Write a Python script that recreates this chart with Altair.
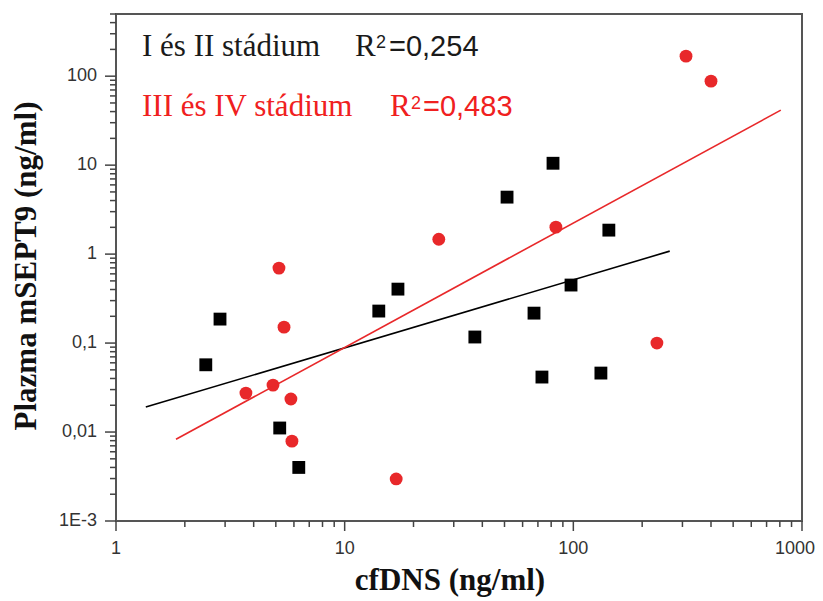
import altair as alt
import pandas as pd

# ---- data ----
groups = ["I és II stádium", "III és IV stádium"]
r2_labels = ["=0,254", "=0,483"]
x_title = "cfDNS (ng/ml)"
y_title = "Plazma mSEPT9 (ng/ml)"

black_x = [2.47, 2.85, 5.2, 6.3, 14.1, 17.1, 37.1, 51.3, 81.5, 143, 97.7, 67.3, 72.9, 132]
black_y = [0.057, 0.186, 0.0111, 0.0040, 0.229, 0.404, 0.117, 4.37, 10.5, 1.86, 0.449, 0.217, 0.0415, 0.046]

red_x = [3.70, 4.86, 5.43, 5.82, 5.88, 16.8, 5.16, 25.8, 83.9, 311, 400, 232]
red_y = [0.0274, 0.0337, 0.151, 0.0235, 0.0079, 0.00297, 0.696, 1.47, 2.01, 168, 87.9, 0.10]

black_fit_x = [1.35, 264]
black_fit_y = [0.0191, 1.08]
red_fit_x = [1.83, 808]
red_fit_y = [0.0083, 41.5]

x_major = [1, 10, 100, 1000]
x_major_labels = ["1", "10", "100", "1000"]
y_major = [0.001, 0.01, 0.1, 1, 10, 100]
y_major_labels = ["1E-3", "0,01", "0,1", "1", "10", "100"]

# ---- minor tick positions (2..9 per decade) ----
x_minor = [round(k * 10 ** e, 6) for e in range(0, 3) for k in range(2, 10)]
y_minor = [round(k * 10 ** e, 6) for e in range(-3, 3) for k in range(2, 10) if k * 10 ** e <= 500]

pts = pd.DataFrame({
    "x": black_x + red_x,
    "y": black_y + red_y,
    "g": [groups[0]] * len(black_x) + [groups[1]] * len(red_x),
})
fit = pd.DataFrame({
    "x": black_fit_x + red_fit_x,
    "y": black_fit_y + red_fit_y,
    "g": [groups[0]] * len(black_fit_x) + [groups[1]] * len(red_fit_x),
})

W, H = 686, 507
xscale = alt.Scale(type="log", domain=[1, 1000], nice=False)
yscale = alt.Scale(type="log", domain=[0.001, 500], nice=False)

color_scale = alt.Scale(domain=groups, range=["#000000", "#e8282a"])
shape_scale = alt.Scale(domain=groups, range=["square", "circle"])
line_color = alt.Scale(domain=groups, range=["#222222", "#f05555"])

points = alt.Chart(pts).mark_point(filled=True, opacity=1, size=165).encode(
    x=alt.X("x:Q", scale=xscale, axis=None),
    y=alt.Y("y:Q", scale=yscale, axis=None),
    color=alt.Color("g:N", scale=color_scale, legend=None),
    shape=alt.Shape("g:N", scale=shape_scale, legend=None),
)

lines = alt.Chart(fit).mark_line(strokeWidth=1.6).encode(
    x=alt.X("x:Q", scale=xscale, axis=None),
    y=alt.Y("y:Q", scale=yscale, axis=None),
    color=alt.Color("g:N", scale=line_color, legend=None),
    detail="g:N",
)

# ---- axes: tick marks and labels drawn through the same scales ----
TICK = "#444444"
LABEL = "#333333"


def xticks(vals, length):
    return alt.Chart(pd.DataFrame({"xt": vals})).mark_tick(
        orient="vertical", size=length, thickness=1.5, color=TICK, opacity=1
    ).encode(
        x=alt.X("xt:Q", scale=xscale, axis=None),
        y=alt.value(H + length / 2),
    )


def yticks(vals, length):
    return alt.Chart(pd.DataFrame({"yt": vals})).mark_tick(
        orient="horizontal", size=length, thickness=1.5, color=TICK, opacity=1
    ).encode(
        y=alt.Y("yt:Q", scale=yscale, axis=None),
        x=alt.value(-length / 2),
    )


def xlabels(vals, labs, align, dx):
    return alt.Chart(pd.DataFrame({"xl": vals, "t": labs})).mark_text(
        align=align, baseline="alphabetic", dx=dx, font="Liberation Sans", fontSize=18, color=LABEL
    ).encode(x=alt.X("xl:Q", scale=xscale, axis=None), y=alt.value(H + 33), text="t:N")


ylabels = alt.Chart(pd.DataFrame({"yl": y_major, "t": y_major_labels})).mark_text(
    align="right", baseline="middle", font="Liberation Sans", fontSize=18, color=LABEL
).encode(y=alt.Y("yl:Q", scale=yscale, axis=None), x=alt.value(-19), text="t:N")

labels = [
    xlabels(x_major[:-1], x_major_labels[:-1], "center", 0),
    xlabels(x_major[-1:], x_major_labels[-1:], "right", 13),
    ylabels,
]
ticks = [xticks(x_major, 10), xticks(x_minor, 6), yticks(y_major, 11), yticks(y_minor, 6)]


def txt(s, x, y, font, size, color, weight="normal", angle=0, align="left", baseline="alphabetic"):
    return alt.Chart(pd.DataFrame({"t": [s]})).mark_text(
        align=align, baseline=baseline, font=font, fontSize=size, color=color,
        fontWeight=weight, angle=angle,
    ).encode(text="t:N", x=alt.value(x), y=alt.value(y))


titles = [
    txt(x_title, 334, 576, "Liberation Serif", 31, "#111111", "bold", 0, "center"),
    txt(y_title, -89, 252, "Liberation Serif", 31, "#111111", "bold", 270, "center", "middle"),
]

ink = ["#1a1a1a", "#f02020"]
texts = [
    txt(groups[0], 26, 42, "Liberation Serif", 31, ink[0]),
    txt("R", 239, 42, "Liberation Serif", 31, ink[0]),
    txt("2", 260, 34, "Liberation Sans", 18, ink[0]),
    txt(r2_labels[0], 273, 42, "Liberation Sans", 29, ink[0]),
    txt(groups[1], 26, 102, "Liberation Serif", 31, ink[1]),
    txt("R", 274, 102, "Liberation Serif", 31, ink[1]),
    txt("2", 295, 95, "Liberation Sans", 18, ink[1]),
    txt(r2_labels[1], 307, 102, "Liberation Sans", 29, ink[1]),
]

chart = alt.layer(points, lines, *ticks, *texts, *labels, *titles).properties(
    width=W,
    height=H,
    autosize=alt.AutoSizeParams(type="none"),
    padding={"left": 108, "top": 6, "right": 13, "bottom": 76},
).configure_view(stroke="#555555", strokeWidth=2)

chart.save("out.html", embed_options={"renderer": "svg", "actions": False})
